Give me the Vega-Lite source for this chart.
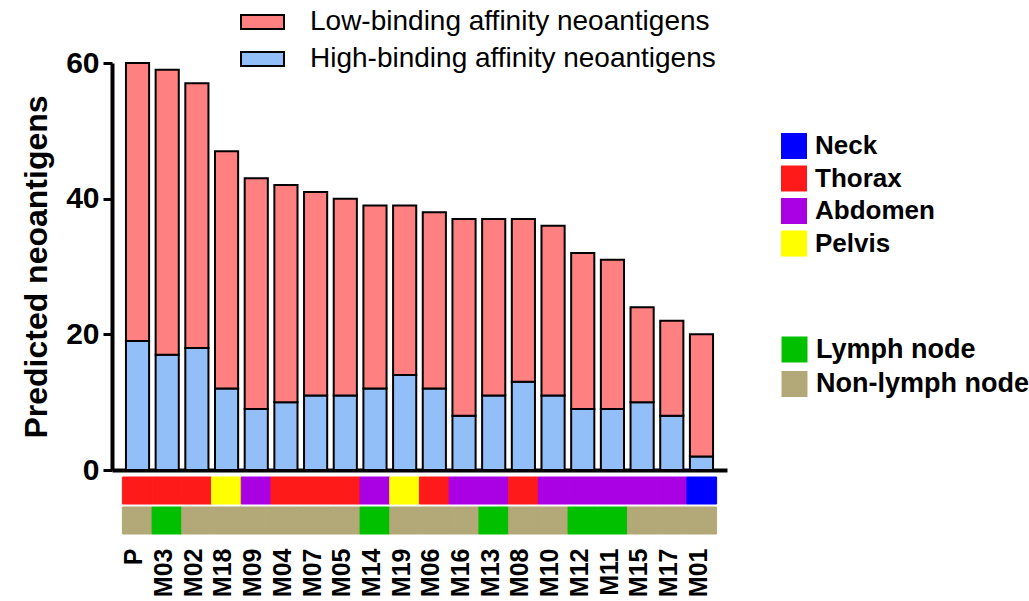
{
  "$schema": "https://vega.github.io/schema/vega-lite/v6.json",
  "background": "white",
  "padding": {"left": 20, "top": 6, "right": 0, "bottom": 0},
  "bounds": "flush",
  "spacing": 7,
  "config": {"view": {"stroke": null}, "font": "Liberation Sans"},
  "resolve": {"scale": {"color": "independent", "x": "independent"}, "legend": {"color": "independent"}},
  "datasets": {
    "bars": [
      {"sample": "P", "binding": "High-binding affinity neoantigens", "count": 19},
      {"sample": "P", "binding": "Low-binding affinity neoantigens", "count": 41},
      {"sample": "M03", "binding": "High-binding affinity neoantigens", "count": 17},
      {"sample": "M03", "binding": "Low-binding affinity neoantigens", "count": 42},
      {"sample": "M02", "binding": "High-binding affinity neoantigens", "count": 18},
      {"sample": "M02", "binding": "Low-binding affinity neoantigens", "count": 39},
      {"sample": "M18", "binding": "High-binding affinity neoantigens", "count": 12},
      {"sample": "M18", "binding": "Low-binding affinity neoantigens", "count": 35},
      {"sample": "M09", "binding": "High-binding affinity neoantigens", "count": 9},
      {"sample": "M09", "binding": "Low-binding affinity neoantigens", "count": 34},
      {"sample": "M04", "binding": "High-binding affinity neoantigens", "count": 10},
      {"sample": "M04", "binding": "Low-binding affinity neoantigens", "count": 32},
      {"sample": "M07", "binding": "High-binding affinity neoantigens", "count": 11},
      {"sample": "M07", "binding": "Low-binding affinity neoantigens", "count": 30},
      {"sample": "M05", "binding": "High-binding affinity neoantigens", "count": 11},
      {"sample": "M05", "binding": "Low-binding affinity neoantigens", "count": 29},
      {"sample": "M14", "binding": "High-binding affinity neoantigens", "count": 12},
      {"sample": "M14", "binding": "Low-binding affinity neoantigens", "count": 27},
      {"sample": "M19", "binding": "High-binding affinity neoantigens", "count": 14},
      {"sample": "M19", "binding": "Low-binding affinity neoantigens", "count": 25},
      {"sample": "M06", "binding": "High-binding affinity neoantigens", "count": 12},
      {"sample": "M06", "binding": "Low-binding affinity neoantigens", "count": 26},
      {"sample": "M16", "binding": "High-binding affinity neoantigens", "count": 8},
      {"sample": "M16", "binding": "Low-binding affinity neoantigens", "count": 29},
      {"sample": "M13", "binding": "High-binding affinity neoantigens", "count": 11},
      {"sample": "M13", "binding": "Low-binding affinity neoantigens", "count": 26},
      {"sample": "M08", "binding": "High-binding affinity neoantigens", "count": 13},
      {"sample": "M08", "binding": "Low-binding affinity neoantigens", "count": 24},
      {"sample": "M10", "binding": "High-binding affinity neoantigens", "count": 11},
      {"sample": "M10", "binding": "Low-binding affinity neoantigens", "count": 25},
      {"sample": "M12", "binding": "High-binding affinity neoantigens", "count": 9},
      {"sample": "M12", "binding": "Low-binding affinity neoantigens", "count": 23},
      {"sample": "M11", "binding": "High-binding affinity neoantigens", "count": 9},
      {"sample": "M11", "binding": "Low-binding affinity neoantigens", "count": 22},
      {"sample": "M15", "binding": "High-binding affinity neoantigens", "count": 10},
      {"sample": "M15", "binding": "Low-binding affinity neoantigens", "count": 14},
      {"sample": "M17", "binding": "High-binding affinity neoantigens", "count": 8},
      {"sample": "M17", "binding": "Low-binding affinity neoantigens", "count": 14},
      {"sample": "M01", "binding": "High-binding affinity neoantigens", "count": 2},
      {"sample": "M01", "binding": "Low-binding affinity neoantigens", "count": 18}
    ],
    "samples": [
      {"sample": "P", "location": "Thorax", "lymph": "Non-lymph node"},
      {"sample": "M03", "location": "Thorax", "lymph": "Lymph node"},
      {"sample": "M02", "location": "Thorax", "lymph": "Non-lymph node"},
      {"sample": "M18", "location": "Pelvis", "lymph": "Non-lymph node"},
      {"sample": "M09", "location": "Abdomen", "lymph": "Non-lymph node"},
      {"sample": "M04", "location": "Thorax", "lymph": "Non-lymph node"},
      {"sample": "M07", "location": "Thorax", "lymph": "Non-lymph node"},
      {"sample": "M05", "location": "Thorax", "lymph": "Non-lymph node"},
      {"sample": "M14", "location": "Abdomen", "lymph": "Lymph node"},
      {"sample": "M19", "location": "Pelvis", "lymph": "Non-lymph node"},
      {"sample": "M06", "location": "Thorax", "lymph": "Non-lymph node"},
      {"sample": "M16", "location": "Abdomen", "lymph": "Non-lymph node"},
      {"sample": "M13", "location": "Abdomen", "lymph": "Lymph node"},
      {"sample": "M08", "location": "Thorax", "lymph": "Non-lymph node"},
      {"sample": "M10", "location": "Abdomen", "lymph": "Non-lymph node"},
      {"sample": "M12", "location": "Abdomen", "lymph": "Lymph node"},
      {"sample": "M11", "location": "Abdomen", "lymph": "Lymph node"},
      {"sample": "M15", "location": "Abdomen", "lymph": "Non-lymph node"},
      {"sample": "M17", "location": "Abdomen", "lymph": "Non-lymph node"},
      {"sample": "M01", "location": "Neck", "lymph": "Non-lymph node"}
    ]
  },
  "vconcat": [
    {
      "width": 615,
      "height": 407,
      "data": {"name": "bars"},
      "mark": {"type": "bar", "stroke": "black", "strokeWidth": 2},
      "encoding": {
        "x": {
          "field": "sample", "type": "nominal",
          "sort": ["P","M03","M02","M18","M09","M04","M07","M05","M14","M19","M06","M16","M13","M08","M10","M12","M11","M15","M17","M01"],
          "scale": {"paddingInner": 0.22, "paddingOuter": 0.47},
          "axis": {"title": null, "labels": false, "ticks": false, "domainWidth": 4, "domainColor": "black"}
        },
        "y": {
          "field": "count", "type": "quantitative", "stack": "zero",
          "scale": {"domain": [0, 60], "nice": false},
          "axis": {
            "title": "Predicted neoantigens", "values": [0, 20, 40, 60], "grid": false,
            "domainWidth": 4, "domainColor": "black", "tickColor": "black", "tickWidth": 3, "tickSize": 9,
            "labelFont": "Liberation Sans", "labelFontWeight": "bold", "labelFontSize": 30, "labelColor": "black", "labelPadding": 4,
            "titleFont": "Liberation Sans", "titleFontWeight": "bold", "titleFontSize": 32, "titleColor": "black", "titlePadding": 12
          }
        },
        "color": {
          "field": "binding", "type": "nominal",
          "scale": {"domain": ["Low-binding affinity neoantigens", "High-binding affinity neoantigens"], "range": ["#FF8080", "#92BFF8"]},
          "legend": {
            "title": null, "orient": "none", "legendX": 134.5, "legendY": -57, "padding": 0,
            "symbolType": "M-1.433,-0.467H1.433V0.467H-1.433Z", "symbolSize": 900,
            "symbolStrokeColor": "black", "symbolStrokeWidth": 2, "symbolOpacity": 1,
            "labelFont": "Liberation Sans", "labelFontSize": 28, "labelColor": "black", "labelOffset": 31.5, "rowPadding": 7, "labelLimit": 600
          }
        },
        "order": {"field": "binding", "sort": "ascending"}
      }
    },
    {
      "spacing": 3,
      "bounds": "flush",
      "resolve": {"scale": {"color": "independent", "stroke": "independent", "x": "independent"}, "legend": {"color": "independent"}},
      "vconcat": [
        {
          "width": 615,
          "height": 27,
          "data": {"name": "samples"},
          "mark": {"type": "rect", "strokeWidth": 1},
          "encoding": {
            "x": {
              "field": "sample", "type": "nominal",
              "sort": ["P","M03","M02","M18","M09","M04","M07","M05","M14","M19","M06","M16","M13","M08","M10","M12","M11","M15","M17","M01"],
              "scale": {"paddingInner": 0, "paddingOuter": 0.35},
              "axis": null
            },
            "color": {
              "field": "location", "type": "nominal",
              "scale": {"domain": ["Neck", "Thorax", "Abdomen", "Pelvis"], "range": ["#0000FF", "#FF1A1A", "#AA00E4", "#FFFF00"]},
              "legend": {
                "title": null, "orient": "none", "legendX": 669, "legendY": -344, "padding": 0,
                "symbolType": "square", "symbolSize": 676, "symbolStrokeWidth": 0, "symbolOpacity": 1,
                "labelFont": "Liberation Sans", "labelFontWeight": "bold", "labelFontSize": 26, "labelColor": "black", "labelOffset": 8, "rowPadding": 6.5
              }
            },
            "stroke": {
              "field": "location", "type": "nominal",
              "scale": {"domain": ["Neck", "Thorax", "Abdomen", "Pelvis"], "range": ["#0000FF", "#FF1A1A", "#AA00E4", "#FFFF00"]},
              "legend": null
            }
          }
        },
        {
          "width": 615,
          "height": 27,
          "data": {"name": "samples"},
          "mark": {"type": "rect", "strokeWidth": 1},
          "encoding": {
            "x": {
              "field": "sample", "type": "nominal",
              "sort": ["P","M03","M02","M18","M09","M04","M07","M05","M14","M19","M06","M16","M13","M08","M10","M12","M11","M15","M17","M01"],
              "scale": {"paddingInner": 0, "paddingOuter": 0.35},
              "axis": {
                "title": null, "domain": false, "ticks": false, "labelAngle": -90,
                "labelFont": "Liberation Sans", "labelFontWeight": "bold", "labelFontSize": 25, "labelColor": "black",
                "labelPadding": 14, "labelOffset": -3
              }
            },
            "color": {
              "field": "lymph", "type": "nominal",
              "scale": {"domain": ["Lymph node", "Non-lymph node"], "range": ["#00C000", "#B2A878"]},
              "legend": {
                "title": null, "orient": "none", "legendX": 669, "legendY": -171, "padding": 0,
                "symbolType": "square", "symbolSize": 676, "symbolStrokeWidth": 0, "symbolOpacity": 1,
                "labelFont": "Liberation Sans", "labelFontWeight": "bold", "labelFontSize": 27, "labelColor": "black", "labelOffset": 8, "rowPadding": 6.5, "labelLimit": 400
              }
            },
            "stroke": {
              "field": "lymph", "type": "nominal",
              "scale": {"domain": ["Lymph node", "Non-lymph node"], "range": ["#00C000", "#B2A878"]},
              "legend": null
            }
          }
        }
      ]
    }
  ]
}
